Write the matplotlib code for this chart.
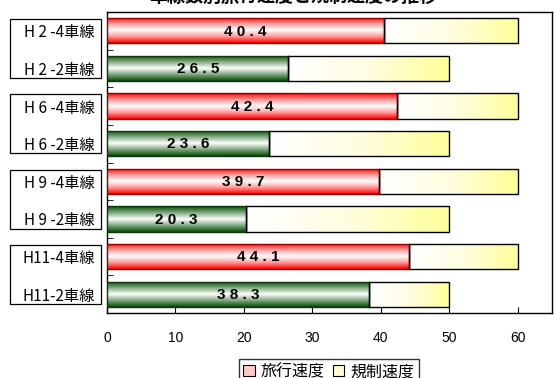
import numpy as np
import matplotlib
matplotlib.use("Agg")
import matplotlib.pyplot as plt
import matplotlib.transforms as mtransforms
from matplotlib.patches import Rectangle
from matplotlib.colors import LinearSegmentedColormap

plt.rcParams['font.family'] = ['Noto Sans CJK JP', 'DejaVu Sans']

categories = ["H 2 -4車線", "H 2 -2車線", "H 6 -4車線", "H 6 -2車線",
              "H 9 -4車線", "H 9 -2車線", "H11-4車線", "H11-2車線"]
travel_speed = [40.4, 26.5, 42.4, 23.6, 39.7, 20.3, 44.1, 38.3]
limit_speed = [60, 50, 60, 50, 60, 50, 60, 50]
lanes = [4, 2, 4, 2, 4, 2, 4, 2]
title = "車線数別旅行速度と規制速度の推移"
legend_labels = ["旅行速度", "規制速度"]
xticks = [0, 10, 20, 30, 40, 50, 60]

W, H = 554, 378
fig = plt.figure(figsize=(W / 100, H / 100), dpi=100)
ax = fig.add_axes([107 / W, (H - 313) / H, 445 / W, 301 / H])

n = len(categories)
bh = 0.67
ax.set_xlim(0, 65)
ax.set_ylim(n - 0.5, -0.5)

red_cmap = LinearSegmentedColormap.from_list("r", ["#ff0000", "#ff9a9a", "#ffffff", "#ff9a9a", "#ff0000"])
green_cmap = LinearSegmentedColormap.from_list("g", ["#0a4a0a", "#7fa87f", "#ffffff", "#7fa87f", "#0a4a0a"])
yel_cmap = LinearSegmentedColormap.from_list("y", ["#ffffff", "#fffde0", "#ffff99"])

vgrad = np.linspace(0, 1, 64).reshape(-1, 1)
hgrad = np.linspace(0, 1, 64).reshape(1, -1)

for i, (tv, lv, ln) in enumerate(zip(travel_speed, limit_speed, lanes)):
    y0 = i - bh / 2
    # limit speed bar (behind)
    r2 = Rectangle((tv, y0), lv - tv, bh, facecolor='none', edgecolor='black', lw=1.0, zorder=3)
    ax.add_patch(r2)
    im2 = ax.imshow(hgrad, cmap=yel_cmap, extent=(tv, lv, y0 + bh, y0), aspect='auto', zorder=2)
    im2.set_clip_path(r2)
    # travel speed bar
    cmap = red_cmap if ln == 4 else green_cmap
    ec = '#900000' if ln == 4 else '#0a3a0a'
    r1 = Rectangle((0, y0), tv, bh, facecolor='none', edgecolor=ec, lw=1.0, zorder=5)
    ax.add_patch(r1)
    im1 = ax.imshow(vgrad, cmap=cmap, extent=(0, tv, y0 + bh, y0), aspect='auto', zorder=4)
    im1.set_clip_path(r1)
    ax.plot([tv, tv], [y0, y0 + bh], color='black', lw=1.0, zorder=6)
    ax.text(tv / 2, i + 0.02, " ".join(f"{tv:.1f}"),
            ha='center', va='center', fontsize=11, fontweight='bold',
            family=['Liberation Sans', 'DejaVu Sans'], zorder=7)

ax.set_xlim(0, 65)
ax.set_ylim(n - 0.5, -0.5)

# ticks
ax.set_xticks(xticks)
ax.tick_params(axis='x', direction='in', length=4, pad=13, labelsize=10)
for lab in ax.get_xticklabels():
    lab.set_family(['Liberation Sans', 'DejaVu Sans'])
ax.set_yticks(range(n))
ax.set_yticklabels(categories, fontsize=11)
ax.tick_params(axis='y', which='major', length=0, pad=9)
ax.set_yticks(np.arange(0.5, n - 0.5, 1), minor=True)
ax.tick_params(axis='y', which='minor', direction='in', length=4)
for sp in ax.spines.values():
    sp.set_color('black')
    sp.set_linewidth(1.0)

# group boxes around category labels
trans = mtransforms.blended_transform_factory(ax.transAxes, ax.transData)
x0 = (10 - 107) / 445
x1 = (101 - 107) / 445
for g in range(0, n, 2):
    top = g - 0.31
    bot = g + 1 + 0.26
    ax.add_patch(Rectangle((x0, top), x1 - x0, bot - top, transform=trans,
                           facecolor='none', edgecolor='black', lw=0.9, clip_on=False))

# title (cropped at top, as in the reference)
fig.text(293 / W, (H - 6) / H, title, ha='center', va='bottom', fontsize=13, fontweight='bold')

# legend
h1 = Rectangle((0, 0), 1, 1, facecolor='#ffc8c8', edgecolor='black', lw=0.8)
h2 = Rectangle((0, 0), 1, 1, facecolor='#ffffcc', edgecolor='black', lw=0.8)
leg = fig.legend([h1, h2], legend_labels, loc='upper center',
                 bbox_to_anchor=(329 / W, (H - 359) / H), ncol=2, fontsize=11.5,
                 frameon=True, fancybox=False, handlelength=0.7, handleheight=0.7,
                 handletextpad=0.4, columnspacing=0.5, borderpad=0.25, borderaxespad=0)
leg.get_frame().set_edgecolor('black')
leg.get_frame().set_linewidth(1.0)

fig.savefig("out.png", dpi=100)
